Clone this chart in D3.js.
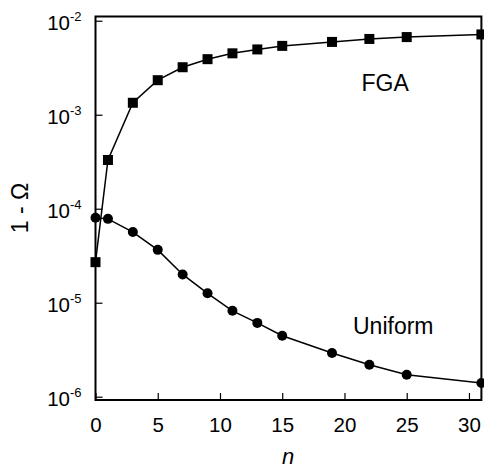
<!DOCTYPE html>
<html>
<head>
<meta charset="utf-8">
<script src="https://cdn.jsdelivr.net/npm/d3@7"></script>
<style>
  body { margin: 0; background: #fff; }
  svg text { font-family: "Liberation Sans", Arial, Helvetica, sans-serif; fill: #000; }
</style>
</head>
<body>
<svg id="chart" width="484" height="470"></svg>
<script>
// values
const nFGA = [0, 1, 3, 5, 7, 9, 11, 13, 15, 19, 22, 25, 31];
const fga = [2.7e-5, 3.3e-4, 1.34e-3, 2.33e-3, 3.2e-3, 3.9e-3, 4.5e-3, 4.95e-3, 5.4e-3, 5.95e-3, 6.4e-3, 6.7e-3, 7.15e-3];
const nUniform = [0, 1, 3, 5, 7, 9, 11, 13, 15, 19, 22, 25, 31];
const uniform = [8.0e-5, 7.8e-5, 5.65e-5, 3.65e-5, 2.0e-5, 1.26e-5, 8.2e-6, 6.1e-6, 4.45e-6, 2.92e-6, 2.19e-6, 1.71e-6, 1.4e-6];
const xTicks = [0, 5, 10, 15, 20, 25, 30];
const yTicks = [1e-2, 1e-3, 1e-4, 1e-5, 1e-6];
const yExponents = ["-2", "-3", "-4", "-5", "-6"];

const svg = d3.select("#chart");
const plotLeft = 95.5, plotRight = 481.4, plotTop = 16.5, plotBottom = 400;

const x = d3.scaleLinear().domain([0, 31]).range([plotLeft, plotRight]);
const y = d3.scaleLog().domain([Math.pow(10, -6.035), Math.pow(10, -1.955)]).range([plotBottom, plotTop]);

// x axis, ticks pointing inward
const xAxis = svg.append("g")
    .attr("transform", `translate(0,${plotBottom})`)
    .call(d3.axisBottom(x).tickValues(xTicks).tickSizeInner(-7).tickSizeOuter(0).tickPadding(0));
xAxis.select(".domain").remove();
xAxis.selectAll(".tick line").attr("stroke", "#000").attr("stroke-width", 1.2);
xAxis.selectAll(".tick text")
    .attr("y", 32).attr("dy", null)
    .style("font-size", "20.5px");

// y axis with 10^k labels
const yAxis = svg.append("g")
    .attr("transform", `translate(${plotLeft},0)`)
    .call(d3.axisLeft(y).tickValues(yTicks).tickSizeInner(-7).tickSizeOuter(0).tickFormat(""));
yAxis.select(".domain").remove();
yAxis.selectAll(".tick line").attr("stroke", "#000").attr("stroke-width", 1.2);
yAxis.selectAll(".tick text").each(function (d, i) {
    let t = d3.select(this)
        .attr("x", -14).attr("dy", null).attr("y", 9)
        .attr("text-anchor", "end");
    t.append("tspan").style("font-size", "20.5px").text("10");
    t.append("tspan").attr("dy", -9).style("font-size", "13px").text(yExponents[i]);
});

// frame
svg.append("rect")
    .attr("x", plotLeft).attr("y", plotTop)
    .attr("width", plotRight - plotLeft).attr("height", plotBottom - plotTop)
    .attr("fill", "none").attr("stroke", "#000").attr("stroke-width", 2);

const line = d3.line().x(d => x(d[0])).y(d => y(d[1]));

const fgaPts = nFGA.map((n, i) => [n, fga[i]]);
const uniPts = nUniform.map((n, i) => [n, uniform[i]]);

svg.append("path").datum(fgaPts)
    .attr("d", line).attr("fill", "none").attr("stroke", "#000").attr("stroke-width", 1.5);
svg.append("path").datum(uniPts)
    .attr("d", line).attr("fill", "none").attr("stroke", "#000").attr("stroke-width", 1.5);

svg.selectAll("rect.sq").data(fgaPts).enter()
    .append("rect").attr("class", "sq")
    .attr("x", d => x(d[0]) - 5).attr("y", d => y(d[1]) - 5)
    .attr("width", 10).attr("height", 10)
    .attr("fill", "#000");

svg.selectAll("circle.dot").data(uniPts).enter()
    .append("circle").attr("class", "dot")
    .attr("cx", d => x(d[0])).attr("cy", d => y(d[1]))
    .attr("r", 5)
    .attr("fill", "#000");

// series labels
svg.append("text").attr("x", 361.5).attr("y", 90.5)
    .style("font-size", "23px").text("FGA");
svg.append("text").attr("x", 353).attr("y", 334)
    .style("font-size", "23px").text("Uniform");

// axis titles
svg.append("text")
    .attr("transform", "translate(28,208) rotate(-90)")
    .attr("text-anchor", "middle")
    .style("font-size", "23px").text("1 - Ω");
svg.append("text")
    .attr("x", 288).attr("y", 464)
    .attr("text-anchor", "middle")
    .style("font-size", "22px").style("font-style", "italic").text("n");
</script>
</body>
</html>
